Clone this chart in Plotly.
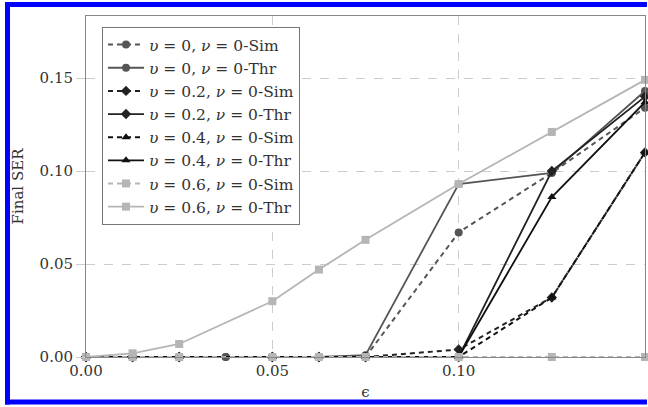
import plotly.graph_objects as go

# x values (epsilon)
x_full = [0, 0.0125, 0.025, 0.0375, 0.05, 0.0625, 0.075, 0.1, 0.125, 0.15]
x_std = [0, 0.0125, 0.025, 0.05, 0.0625, 0.075, 0.1, 0.125, 0.15]

# series values
u0_sim = [0, 0, 0, 0, 0, 0, 0, 0.067, 0.099, 0.134]
u0_thr = [0, 0, 0, 0, 0, 0, 0.001, 0.093, 0.099, 0.143]
u02_sim = [0, 0, 0, 0, 0, 0, 0.004, 0.032, 0.110]
u02_thr = [0, 0, 0, 0, 0, 0, 0, 0.100, 0.140]
u04_sim = [0, 0, 0, 0, 0, 0, 0, 0.032, 0.110]
u04_thr = [0, 0, 0, 0, 0, 0, 0, 0.086, 0.137]
u06_sim = [0, 0, 0, 0, 0, 0, 0, 0, 0]
u06_thr = [0, 0.002, 0.007, 0.030, 0.047, 0.063, 0.093, 0.121, 0.149]

names = [
    "<i>υ</i> = 0, <i>ν</i> = 0-Sim",
    "<i>υ</i> = 0, <i>ν</i> = 0-Thr",
    "<i>υ</i> = 0.2, <i>ν</i> = 0-Sim",
    "<i>υ</i> = 0.2, <i>ν</i> = 0-Thr",
    "<i>υ</i> = 0.4, <i>ν</i> = 0-Sim",
    "<i>υ</i> = 0.4, <i>ν</i> = 0-Thr",
    "<i>υ</i> = 0.6, <i>ν</i> = 0-Sim",
    "<i>υ</i> = 0.6, <i>ν</i> = 0-Thr",
]

series = [
    (x_full, u0_sim, "#555555", "circle", 8, "5px,4px", 2),
    (x_full, u0_thr, "#555555", "circle", 8, "solid", 1.8),
    (x_std, u02_sim, "#222222", "diamond", 8, "5px,4px", 2),
    (x_std, u02_thr, "#222222", "diamond", 8, "solid", 1.8),
    (x_std, u04_sim, "#111111", "triangle-up", 8, "5px,4px", 2),
    (x_std, u04_thr, "#111111", "triangle-up", 8, "solid", 1.8),
    (x_std, u06_sim, "#b5b5b5", "square", 8, "5px,4px", 2),
    (x_std, u06_thr, "#b5b5b5", "square", 8, "solid", 1.8),
]

fig = go.Figure()
for name, (xs, ys, col, sym, sz, dash, lw) in zip(names, series):
    fig.add_trace(go.Scatter(
        x=xs, y=ys, name=name, mode="lines+markers",
        line=dict(color=col, width=lw, dash=dash),
        marker=dict(color=col, symbol=sym, size=sz),
        cliponaxis=False,
    ))

FONT = "DejaVu Serif"
TXT = "#333333"
L, R, T, B = 86, 645, 16, 357
W, H = 648, 407
pw, ph = R - L, B - T

def px(xp):
    return (xp - L) / pw

def py(yp):
    return (B - yp) / ph

blue = dict(color="#0000ff", width=5)

fig.update_layout(
    width=W, height=H,
    margin=dict(l=L, r=W - R, t=T, b=H - B),
    paper_bgcolor="white", plot_bgcolor="white",
    font=dict(family=FONT, size=15, color=TXT),
    showlegend=True,
    legend=dict(
        x=px(102), y=py(27), xanchor="left", yanchor="top",
        bordercolor="#777777", borderwidth=1, bgcolor="white",
        font=dict(family=FONT, size=15.5, color=TXT),
        tracegroupgap=0, itemwidth=36,
    ),
    xaxis=dict(
        range=[0, 0.15], tickvals=[0, 0.05, 0.1], ticktext=["0.00", "0.05", "0.10"],
        showgrid=True, gridcolor="#cccccc", griddash="dash", gridwidth=1,
        showline=True, linecolor="#888888", linewidth=1, mirror=True,
        zeroline=False, ticks="", tickfont=dict(family=FONT, size=15, color=TXT),
        title=dict(text="ϵ", font=dict(family=FONT, size=15, color=TXT), standoff=7),
    ),
    yaxis=dict(
        range=[0, (B - T) / 1860.0],
        tickvals=[0, 0.05, 0.1, 0.15], ticktext=["0.00", "0.05", "0.10", "0.15"],
        showgrid=True, gridcolor="#cccccc", griddash="dash", gridwidth=1,
        showline=True, linecolor="#888888", linewidth=1, mirror=True,
        zeroline=False, ticks="outside", ticklen=9, tickcolor="#cccccc",
        tickfont=dict(family=FONT, size=15, color=TXT),
        title=dict(text="Final SER", font=dict(family=FONT, size=15, color=TXT), standoff=12),
    ),
    shapes=[
        dict(type="line", xref="paper", yref="paper",
             x0=px(7.5), x1=px(7.5), y0=py(404.5), y1=py(2), line=blue, layer="above"),
        dict(type="line", xref="paper", yref="paper",
             x0=px(5), x1=px(647), y0=py(4.5), y1=py(4.5), line=blue, layer="above"),
        dict(type="line", xref="paper", yref="paper",
             x0=px(5), x1=px(647), y0=py(402), y1=py(402), line=blue, layer="above"),
    ],
)

fig.write_html("out.html")
